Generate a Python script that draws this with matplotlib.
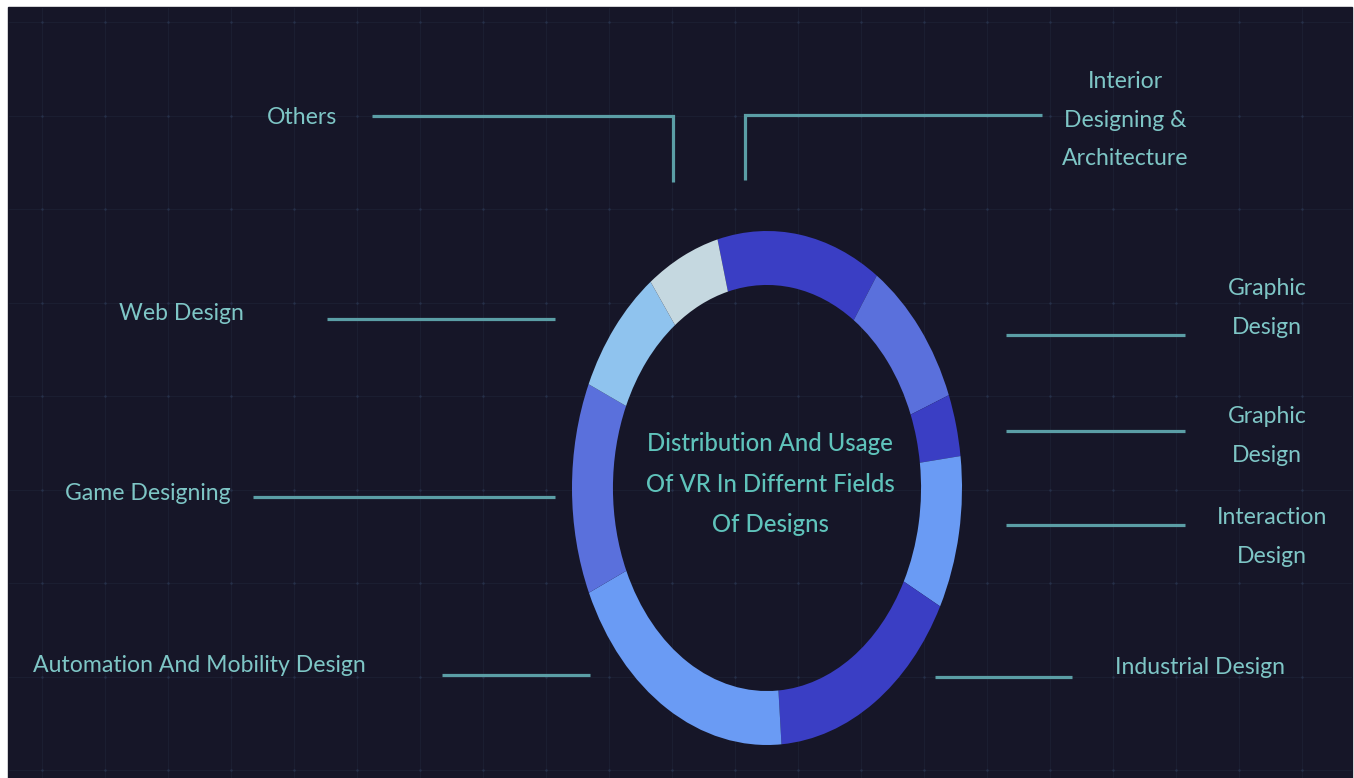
import matplotlib.pyplot as plt

fields = ["Interior Designing & Architecture", "Graphic Design", "Graphic Design",
          "Interaction Design", "Industrial Design", "Automation And Mobility Design",
          "Game Designing", "Web Design", "Others"]
shares = [13.6, 9.6, 3.9, 9.6, 16.2, 19.5, 13.3, 8.2, 6.1]
ring_colors = ["#3a3ec4", "#5a70dc", "#3a3ec4", "#6a9bf4", "#3a3ec4",
               "#6a9bf4", "#5a70dc", "#8fc3ee", "#c5d8e0"]
label_text = ["Interior\nDesigning &\nArchitecture", "Graphic\nDesign", "Graphic\nDesign",
              "Interaction\nDesign", "Industrial Design", "Automation And Mobility Design",
              "Game Designing", "Web Design", "Others"]
title = "Distribution And Usage\nOf VR In Differnt Fields\nOf Designs"

BG = "#161628"
LINE = "#5b9ea6"
TXT = "#7ec6c6"
font = ["Lato", "DejaVu Sans"]

W, H = 1354, 778
fig = plt.figure(figsize=(W / 100, H / 100), dpi=100, facecolor="white")

# background panel in pixel coordinates
bg = fig.add_axes([0, 0, 1, 1])
bg.set_xlim(0, W)
bg.set_ylim(H, 0)
bg.axis("off")
bg.add_patch(plt.Rectangle((8, 7), 1344, 771, color=BG, zorder=0))

# faint background grid with small dots on the crossings
gx = [42 + 63 * k for k in range(21)]
gy = [22 + 93.5 * k for k in range(9)]
for x in gx:
    bg.plot([x, x], [8, 778], color="#1b1e31", lw=0.8, zorder=1)
for y in gy:
    bg.plot([9, 1351], [y, y], color="#1b1e31", lw=0.8, zorder=1)
bg.scatter([x for x in gx for _ in gy], [y for _ in gx for y in gy],
           s=3, color="#26304a", zorder=1, linewidths=0)

# leader lines
leaders = [
    ([372, 673, 673], [116, 116, 182]),
    ([745, 745, 1042], [180, 115, 115]),
    ([327, 555], [319, 319]),
    ([253, 555], [497, 497]),
    ([442, 590], [675, 675]),
    ([1006, 1185], [335, 335]),
    ([1006, 1185], [431, 431]),
    ([1006, 1185], [525, 525]),
    ([935, 1072], [677, 677]),
]
for xs, ys in leaders:
    bg.plot(xs, ys, color=LINE, lw=2.3, solid_capstyle="butt", solid_joinstyle="miter", zorder=2)

# label anchors (pixel centres) in the same order as the fields
anchors = [(1125, 120), (1267, 308), (1267, 436), (1272, 537), (1200, 667),
           (199, 665), (148, 493), (181, 313), (302, 117)]
for txt, (x, y) in zip(label_text, anchors):
    bg.text(x, y, txt, ha="center", va="center", color=TXT, fontsize=16.6,
            family=font, linespacing=2.05, zorder=3)

# the ring, drawn as an ellipse (image is stretched vertically)
cx, cy, rx, ry = 767, 488, 195, 257
ax = fig.add_axes([(cx - rx) / W, (H - cy - ry) / H, 2 * rx / W, 2 * ry / H])
ax.pie(shares, colors=ring_colors, startangle=104.7, counterclock=False,
       radius=1, wedgeprops=dict(width=0.21, linewidth=0))
ax.set_aspect("auto")
ax.set_xlim(-1, 1)
ax.set_ylim(-1, 1)
ax.axis("off")

bg.text(770, 484, title, ha="center", va="center", color="#5fc3bb", fontsize=17.2,
        family=font, fontweight="medium", linespacing=1.9, zorder=3)

fig.savefig("out.png", dpi=100, facecolor="white")
